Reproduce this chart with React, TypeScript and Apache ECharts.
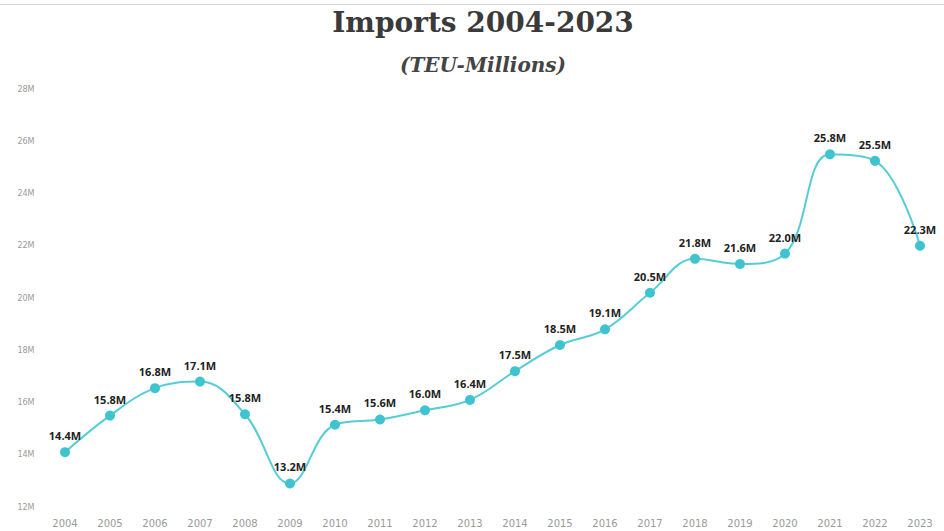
import React, { useEffect, useRef } from "react";
import * as echarts from "echarts";

const years = ["2004","2005","2006","2007","2008","2009","2010","2011","2012","2013","2014","2015","2016","2017","2018","2019","2020","2021","2022","2023"];
// plotted positions (millions TEU) as drawn in the picture
const plotted = [14.1,15.5,16.55,16.8,15.55,12.9,15.15,15.35,15.7,16.1,17.2,18.2,18.8,20.2,21.5,21.3,21.7,25.5,25.25,22.0];
// label texts printed above each point
const labels = ["14.4M","15.8M","16.8M","17.1M","15.8M","13.2M","15.4M","15.6M","16.0M","16.4M","17.5M","18.5M","19.1M","20.5M","21.8M","21.6M","22.0M","25.8M","25.5M","22.3M"];
const yTicks = { min: 12, max: 28, interval: 2 };
const titleText = "Imports 2004-2023";
const subtitleText = "(TEU-Millions)";

export default function App() {
  const ref = useRef<HTMLDivElement>(null);
  useEffect(() => {
    if (!ref.current) return;
    const chart = echarts.init(ref.current, null, { renderer: "svg" });
    chart.setOption({
      animation: false,
      backgroundColor: "#ffffff",
      graphic: [
        { type: "line", shape: { x1: 0, y1: 4.5, x2: 944, y2: 4.5 }, style: { stroke: "#d8d8d8", lineWidth: 1 } },
        {
          type: "text",
          x: 483,
          y: 22,
          style: {
            text: titleText,
            align: "center",
            verticalAlign: "middle",
            font: "bold 28px 'DejaVu Serif'",
            fill: "#3a3a3a",
          },
        },
        {
          type: "text",
          x: 483,
          y: 65,
          style: {
            text: subtitleText,
            align: "center",
            verticalAlign: "middle",
            font: "italic bold 20px 'DejaVu Serif'",
            fill: "#444",
          },
        },
      ],
      grid: { left: 42.5, right: 1.5, top: 89, bottom: 24 },
      xAxis: {
        type: "category",
        data: years,
        axisLine: { show: false },
        axisTick: { show: false },
        axisLabel: { color: "#9a9a9a", fontSize: 10, fontFamily: "DejaVu Sans", margin: 11 },
      },
      yAxis: {
        type: "value",
        min: yTicks.min,
        max: yTicks.max,
        interval: yTicks.interval,
        splitLine: { show: false },
        axisLine: { show: false },
        axisTick: { show: false },
        axisLabel: { color: "#9a9a9a", fontSize: 8, fontFamily: "DejaVu Sans", margin: 8, formatter: (v: number) => v + "M" },
      },
      series: [
        {
          type: "line",
          data: plotted,
          smooth: 0.4,
          symbol: "circle",
          symbolSize: 10,
          lineStyle: { color: "#55cdd6", width: 2 },
          itemStyle: { color: "#3fc4cf" },
          label: {
            show: true,
            position: "top",
            distance: 6,
            fontFamily: "Open Sans",
            fontWeight: "bold",
            fontSize: 11,
            color: "#222",
            formatter: (p: any) => labels[p.dataIndex],
          },
        },
      ],
    });
    return () => chart.dispose();
  }, []);
  return <div ref={ref} style={{ position: "fixed", left: 0, top: 0, width: 944, height: 531 }} />;
}
